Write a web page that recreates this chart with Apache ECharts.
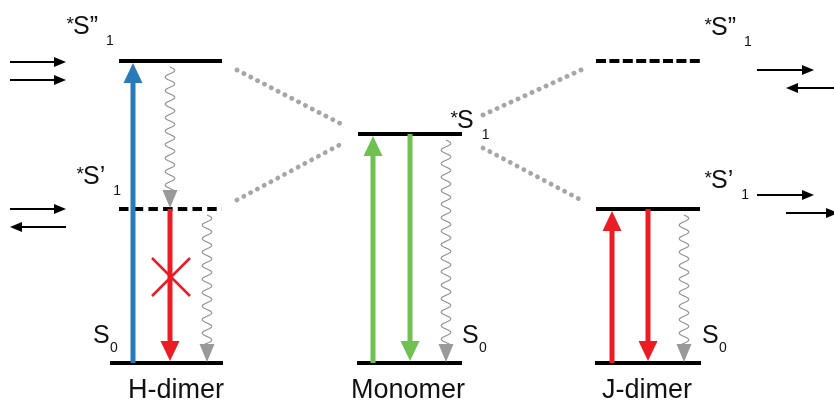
<!DOCTYPE html>
<html>
<head>
<meta charset="utf-8">
<script src="https://cdn.jsdelivr.net/npm/echarts@6/dist/echarts.min.js"></script>
<style>
  html, body { margin: 0; padding: 0; background: #fff; }
  #chart { width: 834px; height: 403px; }
</style>
</head>
<body>
<div id="chart"></div>
<script>
// Energy of each state (arbitrary units, ground state S0 = 0)
const E_S0 = 0;
const E_S1 = 229;      // monomer *S1
const E_S1p = 154;     // dimer *S'1
const E_S1pp = 302;    // dimer *S''1

// Aggregate / molecule names and where their names sit on the diagram axis
const speciesNames = ['H-dimer', 'Monomer', 'J-dimer'];
const speciesNameX = [176, 408, 647];

// Energy level bars: [species, xStart, xEnd, energy, optically dark (dashed)]
const levelBars = [
  [0, 119, 222, E_S1pp, 0], [0, 119, 222, E_S1p, 1], [0, 110, 223, E_S0, 0],
  [1, 358, 462, E_S1, 0], [1, 357, 462, E_S0, 0],
  [2, 596, 700, E_S1pp, 1], [2, 596, 700, E_S1p, 0], [2, 595, 701, E_S0, 0]
];

// Radiative transitions: [x, fromEnergy, toEnergy, colour slot]
const radiative = [
  [133, E_S0, E_S1pp, 0],
  [170, E_S1p, E_S0, 1],
  [373, E_S0, E_S1, 2],
  [410, E_S1, E_S0, 2],
  [612, E_S0, E_S1p, 1],
  [648, E_S1p, E_S0, 1]
];
const radiativeColors = ['#2a7ab9', '#ec1c24', '#70c152'];

// Non-radiative relaxation (wavy arrows): [x, fromEnergy, toEnergy]
const nonRadiative = [
  [170, E_S1pp, E_S1p],
  [207, E_S1p, E_S0],
  [446, E_S1, E_S0],
  [684, E_S1p, E_S0]
];

// Exciton-splitting correlation lines: [x1, e1, x2, e2]
const correlations = [
  [237, 293, 343, 238],
  [237, 163, 343, 220],
  [483, 248, 581, 293],
  [483, 215, 581, 163]
];

// Transition-dipole arrows beside the dimers: [tailX, tipX, energy]
const dipoleArrows = [
  [10, 66, 301], [10, 66, 283],
  [10, 66, 154], [66, 10, 136],
  [757, 814, 293], [850, 786, 275],
  [757, 814, 168], [786, 838, 150]
];

// Forbidden H-dimer emission marker: [x, energy]
const forbidden = [[171, 86]];

// Excited-state labels: [x of "S", baseline energy, prime mark]
const excitedLabels = [
  [73, 327, '\u201D'],
  [83, 177, '\u2019'],
  [457, 233, ''],
  [711, 326, '\u201D'],
  [711, 173, '\u2019']
];
// Ground-state labels: [x of "S", baseline energy]
const groundLabels = [[93, 18], [462, 18], [702, 18]];
const nameBaseline = -37;

const FONT = '"Liberation Sans", Arial, Helvetica, sans-serif';
const darkDash = { 0: [9.5, 5.2], 2: [10, 3.4] };

function textAtBaseline(x, baseline, text, size, align, fill) {
  return {
    type: 'text',
    style: {
      x: x, y: baseline - 0.35 * size,
      text: text,
      font: size + 'px ' + FONT,
      fill: fill || '#111',
      textAlign: align || 'left',
      textVerticalAlign: 'middle'
    }
  };
}

function glyphWidth(text, size) {
  const w = { 'S': 0.667, '\u201D': 0.333, '\u2019': 0.222 };
  let s = 0;
  for (const ch of text) s += (w[ch] || 0.556) * size;
  return s;
}

const chart = echarts.init(document.getElementById('chart'));

const option = {
  animation: false,
  backgroundColor: '#fff',
  grid: { left: 0, right: 0, top: 0, bottom: 0 },
  xAxis: { type: 'value', min: 0, max: 834, show: false },
  yAxis: { type: 'value', min: -40, max: 363, show: false },
  series: [
    {
      name: 'correlations',
      type: 'custom',
      data: correlations.map(c => [c[0], c[1]]),
      renderItem: function (params, api) {
        const c = correlations[params.dataIndex];
        const a = api.coord([c[0], c[1]]);
        const b = api.coord([c[2], c[3]]);
        return {
          type: 'line',
          shape: { x1: a[0], y1: a[1], x2: b[0], y2: b[1] },
          style: { stroke: '#a6a6a6', lineWidth: 4.8, lineCap: 'round', lineDash: [0.1, 7.6] }
        };
      }
    },
    {
      name: 'levels',
      type: 'custom',
      data: levelBars.map(l => [l[1], l[3]]),
      renderItem: function (params, api) {
        const l = levelBars[params.dataIndex];
        const a = api.coord([l[1], l[3]]);
        const b = api.coord([l[2], l[3]]);
        return {
          type: 'line',
          shape: { x1: a[0], y1: a[1], x2: b[0], y2: b[1] },
          style: {
            stroke: '#000', lineWidth: 4,
            lineDash: l[4] ? darkDash[l[0]] : null
          }
        };
      }
    },
    {
      name: 'radiative',
      type: 'custom',
      data: radiative.map(r => [r[0], r[1]]),
      renderItem: function (params, api) {
        const r = radiative[params.dataIndex];
        const a = api.coord([r[0], r[1]]);
        const b = api.coord([r[0], r[2]]);
        const dir = b[1] > a[1] ? 1 : -1;
        const tip = b[1] - dir * 2;
        const headLen = 20, halfW = 9.5;
        const color = radiativeColors[r[3]];
        return {
          type: 'group',
          children: [
            {
              type: 'line',
              shape: { x1: a[0], y1: a[1], x2: a[0], y2: tip - dir * (headLen - 2) },
              style: { stroke: color, lineWidth: 5 }
            },
            {
              type: 'polygon',
              shape: { points: [[a[0], tip], [a[0] - halfW, tip - dir * headLen], [a[0] + halfW, tip - dir * headLen]] },
              style: { fill: color }
            }
          ]
        };
      }
    },
    {
      name: 'nonRadiative',
      type: 'custom',
      data: nonRadiative.map(n => [n[0], n[1]]),
      renderItem: function (params, api) {
        const n = nonRadiative[params.dataIndex];
        const a = api.coord([n[0], n[1]]);
        const b = api.coord([n[0], n[2]]);
        const tip = b[1] - 1;
        const headLen = 18, halfW = 7.5;
        const y0 = a[1] + 6, y1 = tip - headLen + 2;
        const pts = [];
        const period = 13.5, amp = 4.8;
        for (let y = y0; y <= y1; y += 0.5) {
          pts.push([a[0] + amp * Math.sin((y - y0) / period * 2 * Math.PI), y]);
        }
        return {
          type: 'group',
          children: [
            {
              type: 'polyline',
              shape: { points: pts },
              style: { stroke: '#8f8f8f', lineWidth: 1.1, fill: null }
            },
            {
              type: 'polygon',
              shape: { points: [[a[0], tip], [a[0] - halfW, tip - headLen], [a[0] + halfW, tip - headLen]] },
              style: { fill: '#999' }
            }
          ]
        };
      }
    },
    {
      name: 'dipoles',
      type: 'custom',
      data: dipoleArrows.map(d => [d[0], d[2]]),
      renderItem: function (params, api) {
        const d = dipoleArrows[params.dataIndex];
        const a = api.coord([d[0], d[2]]);
        const b = api.coord([d[1], d[2]]);
        const dir = b[0] > a[0] ? 1 : -1;
        const headLen = 12, halfW = 5;
        return {
          type: 'group',
          children: [
            {
              type: 'line',
              shape: { x1: a[0], y1: a[1], x2: b[0] - dir * (headLen - 1), y2: b[1] },
              style: { stroke: '#000', lineWidth: 2.2 }
            },
            {
              type: 'polygon',
              shape: { points: [[b[0], b[1]], [b[0] - dir * headLen, b[1] - halfW], [b[0] - dir * headLen, b[1] + halfW]] },
              style: { fill: '#000' }
            }
          ]
        };
      }
    },
    {
      name: 'forbidden',
      type: 'custom',
      data: forbidden,
      renderItem: function (params, api) {
        const f = forbidden[params.dataIndex];
        const c = api.coord([f[0], f[1]]);
        const h = 19;
        const st = { stroke: '#ec1c24', lineWidth: 2.5 };
        return {
          type: 'group',
          children: [
            { type: 'line', shape: { x1: c[0] - h, y1: c[1] - h, x2: c[0] + h, y2: c[1] + h }, style: st },
            { type: 'line', shape: { x1: c[0] - h, y1: c[1] + h, x2: c[0] + h, y2: c[1] - h }, style: st }
          ]
        };
      }
    },
    {
      name: 'excitedLabels',
      type: 'custom',
      data: excitedLabels.map(l => [l[0], l[1]]),
      renderItem: function (params, api) {
        const l = excitedLabels[params.dataIndex];
        const p = api.coord([l[0], l[1]]);
        const main = 'S' + l[2];
        const subX = p[0] + glyphWidth(main, 25) + 8;
        return {
          type: 'group',
          children: [
            textAtBaseline(p[0] + 1, p[1] - 5, '*', 19, 'right'),
            textAtBaseline(p[0], p[1], main, 25),
            textAtBaseline(subX, p[1] + 10, '1', 14)
          ]
        };
      }
    },
    {
      name: 'groundLabels',
      type: 'custom',
      data: groundLabels,
      renderItem: function (params, api) {
        const g = groundLabels[params.dataIndex];
        const p = api.coord([g[0], g[1]]);
        return {
          type: 'group',
          children: [
            textAtBaseline(p[0], p[1], 'S', 25),
            textAtBaseline(p[0] + 17, p[1] + 8, '0', 14)
          ]
        };
      }
    },
    {
      name: 'speciesNames',
      type: 'custom',
      data: speciesNameX.map(x => [x, nameBaseline]),
      renderItem: function (params, api) {
        const p = api.coord([speciesNameX[params.dataIndex], nameBaseline]);
        return textAtBaseline(p[0], p[1], speciesNames[params.dataIndex], 27, 'center');
      }
    }
  ]
};

chart.setOption(option);
</script>
</body>
</html>
